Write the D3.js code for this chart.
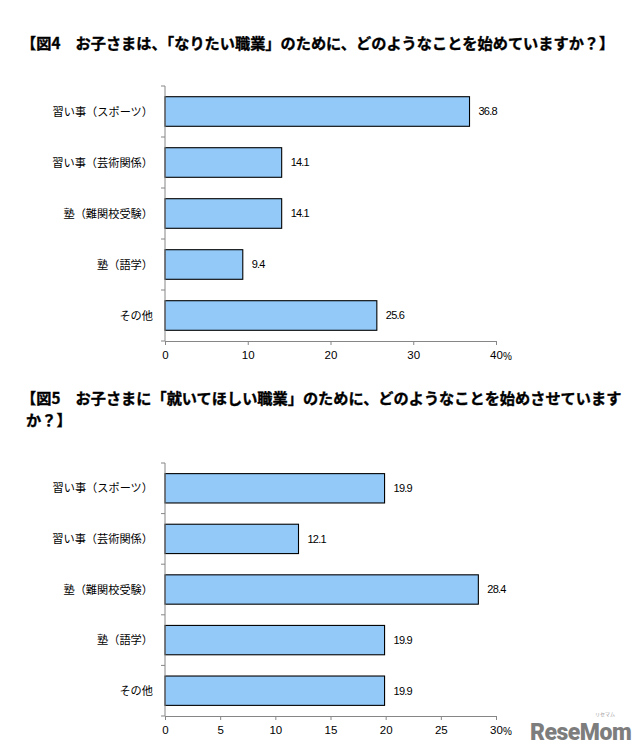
<!DOCTYPE html>
<html>
<head>
<meta charset="utf-8">
<script src="https://cdn.jsdelivr.net/npm/d3@7"></script>
<style>
  html, body { margin: 0; padding: 0; background: #fff; }
  svg { display: block; }
</style>
</head>
<body>
<div id="chart"></div>
<script>
// --- Data ---
const categories = ["習い事（スポーツ）", "習い事（芸術関係）", "塾（難関校受験）", "塾（語学）", "その他"];
const fig4Values = [36.8, 14.1, 14.1, 9.4, 25.6];
const fig5Values = [19.9, 12.1, 28.4, 19.9, 19.9];
const fig4Ticks = [0, 10, 20, 30, 40];
const fig5Ticks = [0, 5, 10, 15, 20, 25, 30];
const fig4Title = ["【図4　お子さまは、「なりたい職業」のために、どのようなことを始めていますか？】"];
const fig5Title = ["【図5　お子さまに「就いてほしい職業」のために、どのようなことを始めさせています", "か？】"];

const W = 640, H = 750;
const cjk = "'Noto Sans CJK JP', 'Noto Sans', sans-serif";
const latin = "'Liberation Sans', Arial, sans-serif";
const barFill = "#92c9f9";
const axisColor = "#868686";

const svg = d3.select("#chart").append("svg")
  .attr("width", W).attr("height", H)
  .attr("viewBox", [0, 0, W, H]);

function drawTitle(lines, x, y0) {
  const t = svg.append("text")
    .attr("font-family", cjk)
    .attr("font-weight", "700")
    .attr("font-size", 15.2)
    .attr("fill", "#000")
    .attr("stroke", "#000")
    .attr("stroke-width", 0.35);
  lines.forEach((line, i) => {
    t.append("tspan")
      .attr("x", i === 0 ? x : x + 5)
      .attr("y", y0 + i * 22)
      .text(line);
  });
}

function drawChart(values, ticks, top, bottom) {
  const left = 165, right = 496;
  const x = d3.scaleLinear()
    .domain([0, d3.max(ticks)])
    .range([left, right]);
  const y = d3.scaleBand()
    .domain(categories)
    .range([top, bottom])
    .paddingInner(0.42)
    .paddingOuter(0.21);

  const g = svg.append("g");

  // bars
  g.append("g")
    .selectAll("rect")
    .data(values)
    .join("rect")
    .attr("x", x(0))
    .attr("y", (d, i) => y(categories[i]))
    .attr("width", (d) => x(d) - x(0))
    .attr("height", y.bandwidth())
    .attr("fill", barFill)
    .attr("stroke", "#000")
    .attr("stroke-width", 1.1);

  // value labels
  g.append("g")
    .selectAll("text")
    .data(values)
    .join("text")
    .attr("x", (d) => x(d) + 9)
    .attr("y", (d, i) => y(categories[i]) + y.bandwidth() / 2)
    .attr("dy", "0.36em")
    .attr("font-family", latin)
    .attr("font-size", 11)
    .attr("letter-spacing", -0.8)
    .attr("fill", "#000")
    .text((d) => d.toFixed(1));

  // category axis (ticks on band boundaries, Excel style)
  const step = y.step();
  const bounds = d3.range(categories.length + 1).map((i) => top + i * step);
  g.append("line")
    .attr("x1", left).attr("x2", left)
    .attr("y1", top).attr("y2", bottom)
    .attr("stroke", axisColor);
  g.append("g")
    .selectAll("line")
    .data(bounds)
    .join("line")
    .attr("x1", left - 4).attr("x2", left)
    .attr("y1", (d) => d).attr("y2", (d) => d)
    .attr("stroke", axisColor);

  g.append("g")
    .selectAll("text")
    .data(categories)
    .join("text")
    .attr("x", left - 12)
    .attr("y", (d) => y(d) + y.bandwidth() / 2)
    .attr("dy", "0.36em")
    .attr("text-anchor", "end")
    .attr("font-family", cjk)
    .attr("font-size", 11.2)
    .attr("fill", "#000")
    .text((d) => d);

  // value axis
  const ax = g.append("g")
    .attr("transform", `translate(0,${bottom})`)
    .call(d3.axisBottom(x).tickValues(ticks).tickSize(4).tickSizeOuter(0).tickPadding(6));
  ax.select(".domain").attr("stroke", axisColor);
  ax.selectAll(".tick line").attr("stroke", axisColor);
  ax.selectAll(".tick text")
    .attr("font-family", latin)
    .attr("font-size", 11.5)
    .attr("fill", "#000");

  g.append("text")
    .attr("x", x(d3.max(ticks)) + 7)
    .attr("y", bottom + 18.5)
    .attr("font-family", latin)
    .attr("font-size", 10)
    .attr("fill", "#000")
    .text("%");
}

drawTitle(fig4Title, 21, 49);
drawChart(fig4Values, fig4Ticks, 86, 341);

drawTitle(fig5Title, 21, 404);
drawChart(fig5Values, fig5Ticks, 463, 716);

// watermark
svg.append("text")
  .attr("x", 530).attr("y", 740)
  .attr("font-family", "'Roboto', 'Liberation Sans', sans-serif")
  .attr("font-weight", "900")
  .attr("font-size", 23)
  .attr("letter-spacing", -0.5)
  .attr("fill", "#7d7d7d")
  .text("ReseMom");
svg.append("text")
  .attr("x", 605).attr("y", 716)
  .attr("text-anchor", "middle")
  .attr("font-family", cjk)
  .attr("font-size", 5)
  .attr("fill", "#9a9a9a")
  .text("リセマム");
</script>
</body>
</html>
